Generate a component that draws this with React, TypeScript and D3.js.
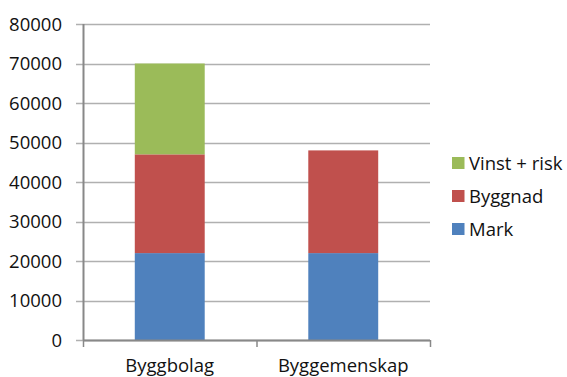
import React from "react";
import * as d3 from "d3";

// Cost breakdown per building form
const categories = ["Byggbolag", "Byggemenskap"];
const seriesNames = ["Mark", "Byggnad", "Vinst + risk"];
const markValues = [22000, 22000];
const byggnadValues = [25000, 26000];
const vinstValues = [23000, 0];
const yTicks = [0, 10000, 20000, 30000, 40000, 50000, 60000, 70000, 80000];
const seriesColors = ["#4F81BD", "#C0504D", "#9BBB59"];

const W = 567;
const H = 377;
const plot = { left: 83, right: 430, top: 24, bottom: 340 };
const FONT = "'Open Sans', 'Liberation Sans', sans-serif";

export default function App() {
  const rows = categories.map((c, i) => ({
    category: c,
    Mark: markValues[i],
    Byggnad: byggnadValues[i],
    "Vinst + risk": vinstValues[i],
  }));

  const stacked = d3.stack<any>().keys(seriesNames)(rows);

  const x = d3
    .scaleBand<string>()
    .domain(categories)
    .range([plot.left, plot.right])
    .paddingInner(0.597)
    .paddingOuter(0.2985);
  const y = d3.scaleLinear().domain([0, 80000]).range([plot.bottom, plot.top]);

  const step = (plot.right - plot.left) / categories.length;
  const catTicks = d3.range(categories.length + 1).map((i) => plot.left + i * step);

  const legendItems = seriesNames.slice().reverse();

  return (
    <svg
      width={W}
      height={H}
      style={{ position: "absolute", left: 0, top: 0, background: "#fff" }}
    >
      {/* horizontal gridlines */}
      {yTicks.map((t) => (
        <line
          key={"g" + t}
          x1={plot.left - 7}
          x2={plot.right}
          y1={Math.round(y(t)) + 0.5}
          y2={Math.round(y(t)) + 0.5}
          stroke="#b0b0b0"
          strokeWidth={1.3}
        />
      ))}

      {/* stacked bars */}
      {stacked.map((layer, si) =>
        layer.map((d, ci) => {
          const x0 = x(categories[ci])!;
          const h = y(d[0]) - y(d[1]);
          if (h <= 0) return null;
          return (
            <rect
              key={si + "-" + ci}
              x={x0}
              y={y(d[1])}
              width={x.bandwidth()}
              height={h}
              fill={seriesColors[si]}
            />
          );
        })
      )}

      {/* axes */}
      <line
        x1={plot.left + 0.5}
        x2={plot.left + 0.5}
        y1={plot.top}
        y2={plot.bottom}
        stroke="#888"
        strokeWidth={2}
      />
      <line
        x1={plot.left}
        x2={plot.right}
        y1={plot.bottom + 0.5}
        y2={plot.bottom + 0.5}
        stroke="#888"
        strokeWidth={2}
      />
      {catTicks.map((cx, i) => (
        <line
          key={"ct" + i}
          x1={cx + 0.5}
          x2={cx + 0.5}
          y1={plot.bottom}
          y2={plot.bottom + 7}
          stroke="#888"
          strokeWidth={1.5}
        />
      ))}

      {/* y tick labels */}
      {yTicks.map((t) => (
        <text
          key={"yl" + t}
          x={62}
          y={y(t)}
          dy="0.36em"
          textAnchor="end"
          fontFamily={FONT}
          fontSize={18.5}
          fill="#111"
        >
          {t}
        </text>
      ))}

      {/* category labels */}
      {categories.map((c) => (
        <text
          key={"cl" + c}
          x={x(c)! + x.bandwidth() / 2}
          y={371.5}
          textAnchor="middle"
          fontFamily={FONT}
          fontSize={18.5}
          fill="#111"
        >
          {c}
        </text>
      ))}

      {/* legend */}
      {legendItems.map((name, i) => {
        const si = seriesNames.indexOf(name);
        const ly = 157 + i * 33;
        return (
          <g key={"lg" + name}>
            <rect x={452} y={ly} width={12.5} height={12} fill={seriesColors[si]} />
            <text
              x={469}
              y={ly + 6}
              dy="0.36em"
              fontFamily={FONT}
              fontSize={18.5}
              fill="#111"
            >
              {name}
            </text>
          </g>
        );
      })}
    </svg>
  );
}
